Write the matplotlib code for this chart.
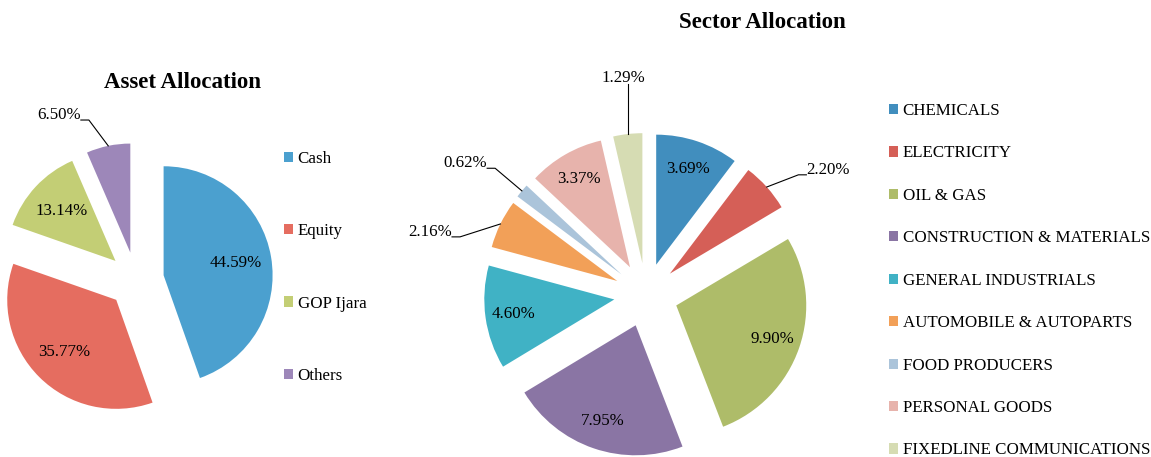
import math
import matplotlib.pyplot as plt

plt.rcParams['font.family'] = ['Liberation Serif', 'DejaVu Serif']

asset_names = ["Cash", "Equity", "GOP Ijara", "Others"]
asset_pct = [44.59, 35.77, 13.14, 6.50]
asset_colors = ["#4BA0CF", "#E56D60", "#C3CE75", "#9D87B9"]

sector_names = ["CHEMICALS", "ELECTRICITY", "OIL & GAS",
                "CONSTRUCTION & MATERIALS", "GENERAL INDUSTRIALS",
                "AUTOMOBILE & AUTOPARTS", "FOOD PRODUCERS",
                "PERSONAL GOODS", "FIXEDLINE COMMUNICATIONS"]
sector_pct = [3.69, 2.20, 9.90, 7.95, 4.60, 2.16, 0.62, 3.37, 1.29]
sector_colors = ["#418EBE", "#D55F57", "#AEBC69", "#8A75A4", "#40B2C5",
                 "#F2A058", "#ABC4DA", "#E7B3AC", "#D6DCB3"]

# small slices get their label outside: index -> (angle deg, distance in radii)
asset_outside = {3: (115, 1.67)}
sector_outside = {1: (34.5, 1.70), 5: (163.7, 1.73), 6: (143.9, 1.72), 8: (96, 1.68)}

W, H = 1151, 457
fig = plt.figure(figsize=(W / 100, H / 100), dpi=100)
ax = fig.add_axes([0, 0, 1, 1])

# axes works in pixels, y from the bottom
asset_c, asset_r = (136, H - 280), 109
sector_c, sector_r = (646, H - 295), 130

w1, _ = ax.pie(asset_pct, colors=asset_colors, startangle=90, counterclock=False,
               radius=asset_r, center=asset_c, explode=[28] * len(asset_pct),
               wedgeprops=dict(linewidth=0))
w2, _ = ax.pie(sector_pct, colors=sector_colors, startangle=90, counterclock=False,
               radius=sector_r, center=sector_c, explode=[32] * len(sector_pct),
               wedgeprops=dict(linewidth=0))

ax.set_xlim(0, W)
ax.set_ylim(0, H)
ax.set_aspect('auto')
ax.axis('off')

leaders = []


def put_labels(wedges, vals, pctd, outside, c, r):
    for i, (w, v) in enumerate(zip(wedges, vals)):
        mid = math.radians((w.theta1 + w.theta2) / 2)
        wx, wy = w.center
        s = "%.2f%%" % v
        if i not in outside:
            ax.text(wx + pctd * w.r * math.cos(mid), wy + pctd * w.r * math.sin(mid),
                    s, ha='center', va='center', fontsize=12.2)
            continue
        ang, d = outside[i]
        a = math.radians(ang)
        t = ax.text(c[0] + d * r * math.cos(a), c[1] + d * r * math.sin(a), s,
                    ha='center', va='center', fontsize=12.2)
        leaders.append((t, wx + w.r * math.cos(mid), wy + w.r * math.sin(mid)))


put_labels(w1, asset_pct, 0.67, asset_outside, asset_c, asset_r)
put_labels(w2, sector_pct, 0.78, sector_outside, sector_c, sector_r)

ax.text(183, H - 82, "Asset Allocation", ha='center', va='center',
        fontsize=16.5, fontweight='bold')
ax.text(762, H - 23, "Sector Allocation", ha='center', va='center',
        fontsize=16.5, fontweight='bold')

leg1 = ax.legend(w1, asset_names, loc='upper left', bbox_to_anchor=(284, H - 151),
                 bbox_transform=ax.transData, frameon=False, fontsize=12.2,
                 labelspacing=3.32, handlelength=0.55, handleheight=0.55,
                 handletextpad=0.25, borderpad=0, borderaxespad=0)
ax.add_artist(leg1)
ax.legend(w2, sector_names, loc='upper left', bbox_to_anchor=(889, H - 103),
          bbox_transform=ax.transData, frameon=False, fontsize=12.2,
          labelspacing=1.56, handlelength=0.55, handleheight=0.55,
          handletextpad=0.25, borderpad=0, borderaxespad=0)

fig.canvas.draw()
rend = fig.canvas.get_renderer()
for t, px, py in leaders:
    bb = t.get_window_extent(rend)
    tx, ty = t.get_position()
    if bb.x0 <= px <= bb.x1:
        ax.plot([px, px], [bb.y0 + 2, py], color='black', lw=0.8)
    else:
        if px > bb.x1:
            sx, hx = bb.x1, bb.x1 + 8
        else:
            sx, hx = bb.x0, bb.x0 - 8
        ly = ty - 5
        ax.plot([sx, hx, px], [ly, ly, py], color='black', lw=0.8)

fig.savefig("out.png", dpi=100)
